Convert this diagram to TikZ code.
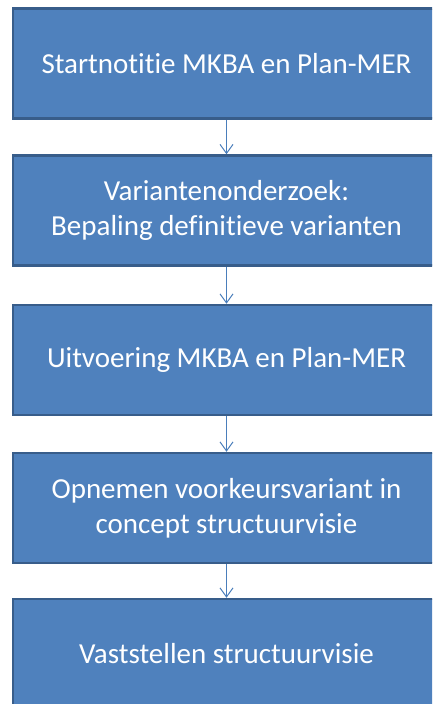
\documentclass[tikz,border=0pt]{standalone}
\usepackage{fontspec}
\setmainfont{Carlito}[RawFeature={-liga}]
\usetikzlibrary{arrows.meta}
\definecolor{boxfill}{HTML}{4F81BD}
\definecolor{boxline}{HTML}{385D8A}
\definecolor{arrowcol}{HTML}{4A7EBB}
\begin{document}
\begin{tikzpicture}[x=1pt,y=-1pt,
  stepbox/.style={draw=boxline, line width=2.5pt, fill=boxfill, text=white,
    minimum width=427pt, minimum height=110pt, align=center, inner sep=0pt,
    font=\fontsize{29}{35}\selectfont},
  flow/.style={draw=arrowcol, line width=1pt, -{Straight Barb[length=9pt,width=13pt]}}]
\useasboundingbox (0,0) rectangle (432,704);
\clip (0,0) rectangle (432,704);
\node[stepbox] (b1) at (226.5,63.5) {Startnotitie MKBA en Plan-MER};
\node[stepbox] (b2) at (226.5,210.5) {Variantenonderzoek:\\Bepaling definitieve varianten};
\node[stepbox] (b3) at (226.5,360) {Uitvoering MKBA en Plan-MER};
\node[stepbox] (b4) at (226.5,508) {Opnemen voorkeursvariant in\\concept structuurvisie};
\node[stepbox] (b5) at (226.5,654) {Vaststellen structuurvisie};
\draw[flow] (b1.south) -- (b2.north);
\draw[flow] (b2.south) -- (b3.north);
\draw[flow] (b3.south) -- (b4.north);
\draw[flow] (b4.south) -- (b5.north);
\end{tikzpicture}
\end{document}
